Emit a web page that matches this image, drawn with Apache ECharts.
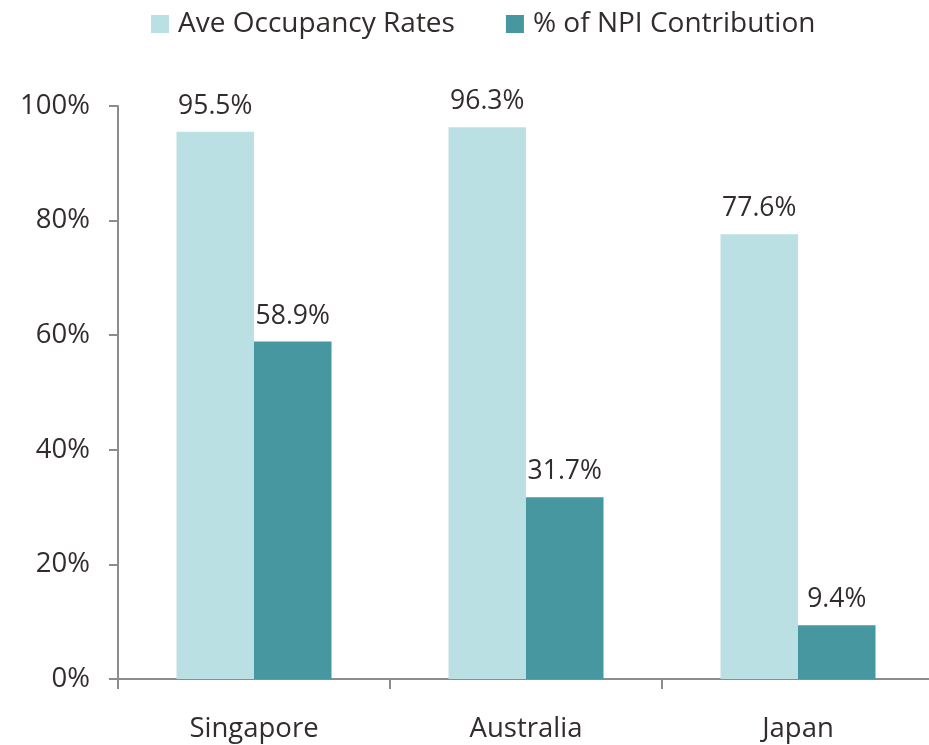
<!DOCTYPE html>
<html>
<head>
<meta charset="utf-8">
<script src="https://cdn.jsdelivr.net/npm/echarts@6/dist/echarts.min.js"></script>
<style>
  html, body { margin: 0; padding: 0; background: #fff; }
  #chart { width: 929px; height: 745px; }
</style>
</head>
<body>
<div id="chart"></div>
<script>
// data
var categories = ['Singapore', 'Australia', 'Japan'];
var occupancy = [95.5, 96.3, 77.6];
var npiShare = [58.9, 31.7, 9.4];
var seriesNames = ['Ave Occupancy Rates', '% of NPI Contribution'];

var textColor = '#332c2c';
var fontFam = '"Open Sans", "DejaVu Sans", sans-serif';

var chart = echarts.init(document.getElementById('chart'));

function barSeries(name, data, color) {
  return {
    name: name,
    type: 'bar',
    data: data,
    barGap: '0%',
    barCategoryGap: '43%',
    itemStyle: { color: color },
    label: {
      show: true,
      position: 'top',
      distance: 12,
      formatter: function (p) { return p.value.toFixed(1) + '%'; },
      color: textColor,
      fontSize: 26.5,
      fontFamily: fontFam
    }
  };
}

chart.setOption({
  animation: false,
  legend: {
    top: 5,
    left: 146,
    itemWidth: 18,
    itemHeight: 18,
    itemGap: 51,
    icon: 'rect',
    textStyle: { color: textColor, fontSize: 28, fontFamily: fontFam, padding: [0, 0, 0, 4] },
    data: seriesNames
  },
  grid: { left: 118, right: -5, top: 106, bottom: 66, outerBoundsMode: 'none' },
  xAxis: {
    type: 'category',
    data: categories,
    axisLine: { lineStyle: { color: '#8c8c8c', width: 2 } },
    axisTick: { show: true, length: 10, lineStyle: { color: '#8c8c8c', width: 2 } },
    axisLabel: { color: textColor, fontSize: 27.5, fontFamily: fontFam, margin: 36 }
  },
  yAxis: {
    type: 'value',
    min: 0,
    max: 100,
    interval: 20,
    splitLine: { show: false },
    axisLine: { show: true, lineStyle: { color: '#8c8c8c', width: 2 } },
    axisTick: { show: true, length: 9, lineStyle: { color: '#8c8c8c', width: 2 } },
    axisLabel: {
      color: textColor, fontSize: 27.5, fontFamily: fontFam, margin: 28,
      formatter: '{value}%'
    }
  },
  series: [
    barSeries(seriesNames[0], occupancy, '#bbe0e3'),
    barSeries(seriesNames[1], npiShare, '#46979f')
  ]
});
</script>
</body>
</html>
